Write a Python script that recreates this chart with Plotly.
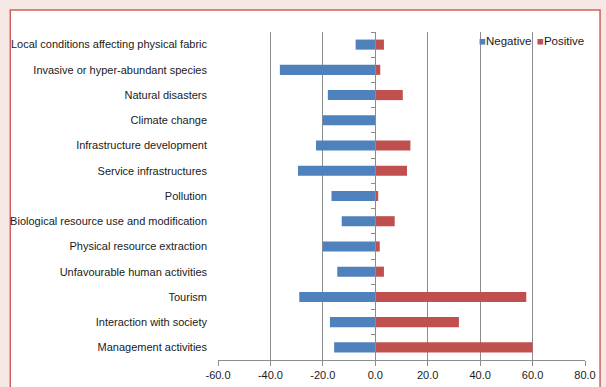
import plotly.graph_objects as go

categories = [
    "Local conditions affecting physical fabric",
    "Invasive or hyper-abundant species",
    "Natural disasters",
    "Climate change",
    "Infrastructure development",
    "Service infrastructures",
    "Pollution",
    "Biological resource use and modification",
    "Physical resource extraction",
    "Unfavourable human activities",
    "Tourism",
    "Interaction with society",
    "Management activities",
]
negative = [-7.5, -36.4, -18.1, -20.0, -22.6, -29.5, -16.7, -12.8, -20.0, -14.5, -29.0, -17.3, -15.7]
positive = [3.3, 1.9, 10.5, 0.0, 13.4, 12.1, 1.1, 7.4, 1.7, 3.3, 57.6, 31.9, 60.0]
x_ticks = [-60, -40, -20, 0, 20, 40, 60, 80]

FONT = "Liberation Sans, Arial, sans-serif"
GRID = "#8c8c8c"
BLUE = "#4f81bd"
RED = "#c0504d"
PINK = "#f6e8e4"

fig = go.Figure()
fig.add_trace(go.Bar(y=categories, x=negative, orientation="h", name="Negative",
                     marker=dict(color=BLUE, line=dict(width=0))))
fig.add_trace(go.Bar(y=categories, x=positive, orientation="h", name="Positive",
                     marker=dict(color=RED, line=dict(width=0))))
# invisible trace so the category axis at x=0 draws its tick marks
fig.add_trace(go.Scatter(y=categories, x=[0] * len(categories), yaxis="y2",
                         mode="markers", marker=dict(opacity=0),
                         showlegend=False, hoverinfo="skip"))

n = len(categories)
yrange = [n - 0.5, -0.5]
x_min, x_max = x_ticks[0], x_ticks[-1]

fig.update_layout(
    width=606, height=387,
    margin=dict(l=218, r=21, t=32, b=27),
    paper_bgcolor=PINK,
    plot_bgcolor="white",
    barmode="relative",
    bargap=0.6,
    font=dict(family=FONT, size=11, color="#1a1a1a"),
    showlegend=False,
    xaxis=dict(range=[x_min, x_max], tickvals=x_ticks,
               ticktext=[f"{v:.1f}" for v in x_ticks],
               showgrid=True, gridcolor=GRID, gridwidth=1,
               zeroline=False, showline=True, linecolor=GRID, linewidth=1,
               ticks="outside", ticklen=5, tickcolor=GRID, automargin=False),
    yaxis=dict(range=yrange, showgrid=False, zeroline=False, showline=False,
               ticks="", ticklabelstandoff=10, automargin=False),
    yaxis2=dict(range=yrange, overlaying="y", anchor="free",
                position=(0 - x_min) / (x_max - x_min), side="left",
                showline=True, linecolor=GRID, linewidth=1,
                ticks="outside", ticklen=4, tickcolor=GRID,
                tickson="boundaries", showticklabels=False, showgrid=False,
                automargin=False),
)

# legend drawn as text, tight like the original
fig.add_annotation(text=f"<span style='color:{RED}'>■</span>Positive",
                   xref="paper", yref="paper", x=1.004, y=0.973,
                   xanchor="right", yanchor="middle", showarrow=False,
                   font=dict(size=11.5))
fig.add_annotation(text=f"<span style='color:{BLUE}'>■</span>Negative",
                   xref="paper", yref="paper", x=0.857, y=0.973,
                   xanchor="right", yanchor="middle", showarrow=False,
                   font=dict(size=11.5))

# white chart panel with red border, as in the original figure frame
fig.add_shape(type="rect", xref="paper", yref="paper",
              x0=-0.566, x1=1.041, y0=-0.2, y1=1.067,
              line=dict(color="#d0605c", width=1.5), fillcolor="white",
              layer="below")

# drop the browser's default body margin so the figure sits at the corner
fig.write_html("out.html",
               config={"displayModeBar": False},
               post_script=f"document.body.style.margin='0';"
                           f"document.body.style.background='{PINK}';")
